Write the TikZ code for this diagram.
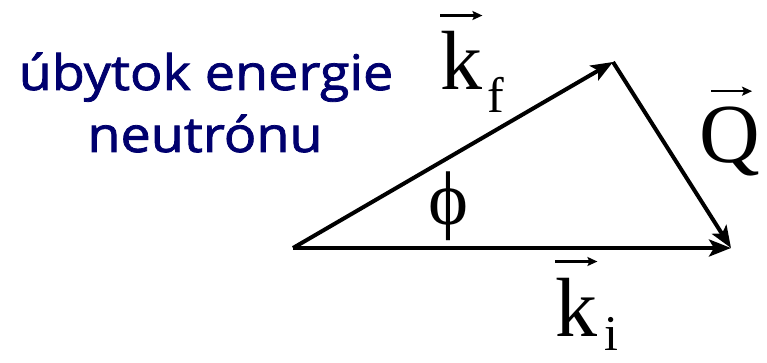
\documentclass[tikz,border=0pt]{standalone}
\usepackage{fontspec}
\setmainfont{Liberation Serif}
\newfontfamily\labelfont[FakeBold=1.6, FakeStretch=1.1]{Open Sans}
\usetikzlibrary{arrows.meta}
\definecolor{navy}{RGB}{0,0,110}
\tikzset{
  vecline/.style={line width=4pt, -{Stealth[length=22pt,width=17pt,inset=5pt]}},
  overarrow/.style={line width=2.2pt, -{Stealth[length=10pt,width=9pt,inset=2pt]}},
  biglbl/.style={inner sep=0pt, font=\fontsize{84}{90}\selectfont},
  sublbl/.style={inner sep=0pt, font=\fontsize{50}{54}\selectfont},
  txt/.style={inner sep=0pt, text=navy, font=\labelfont\fontsize{49}{52}\selectfont}
}
\begin{document}
\begin{tikzpicture}[x=1pt,y=-1pt]
\useasboundingbox[fill=white] (0,0) rectangle (767,363);
% text
\node[txt, anchor=base] (t1) at (206,90) {úbytok energie};
\node[txt, anchor=base] (t2) at (205,152) {neutrónu};
% triangle
\coordinate (O) at (293,248);
\coordinate (T) at (613,62);
\coordinate (R) at (731,248);
\draw[vecline] (O) -- (T);
\draw[vecline] (T) -- (R);
\draw[vecline] (O) -- (R);
% labels
\node[biglbl, anchor=base west] (kf) at (440,90) {k};
\node[sublbl, anchor=base west] (f) at (487,113) {f};
\draw[overarrow] ([yshift=16pt]kf.north west) -- ([yshift=16pt]kf.north east);
\node[biglbl, anchor=base west] (Q) at (699,163) {Q};
\draw[overarrow] ([yshift=16pt,xshift=12pt]Q.north west) -- ([yshift=16pt,xshift=-8pt]Q.north east);
\node[biglbl, anchor=base west] (ki) at (555,336) {k};
\node[sublbl, anchor=base west] (i) at (604,350) {i};
\draw[overarrow] ([yshift=16pt]ki.north west) -- ([yshift=16pt]ki.north east);
\node[inner sep=0pt, font=\fontsize{76}{80}\selectfont] (phi) at (448,206) {ϕ};
\end{tikzpicture}
\end{document}
